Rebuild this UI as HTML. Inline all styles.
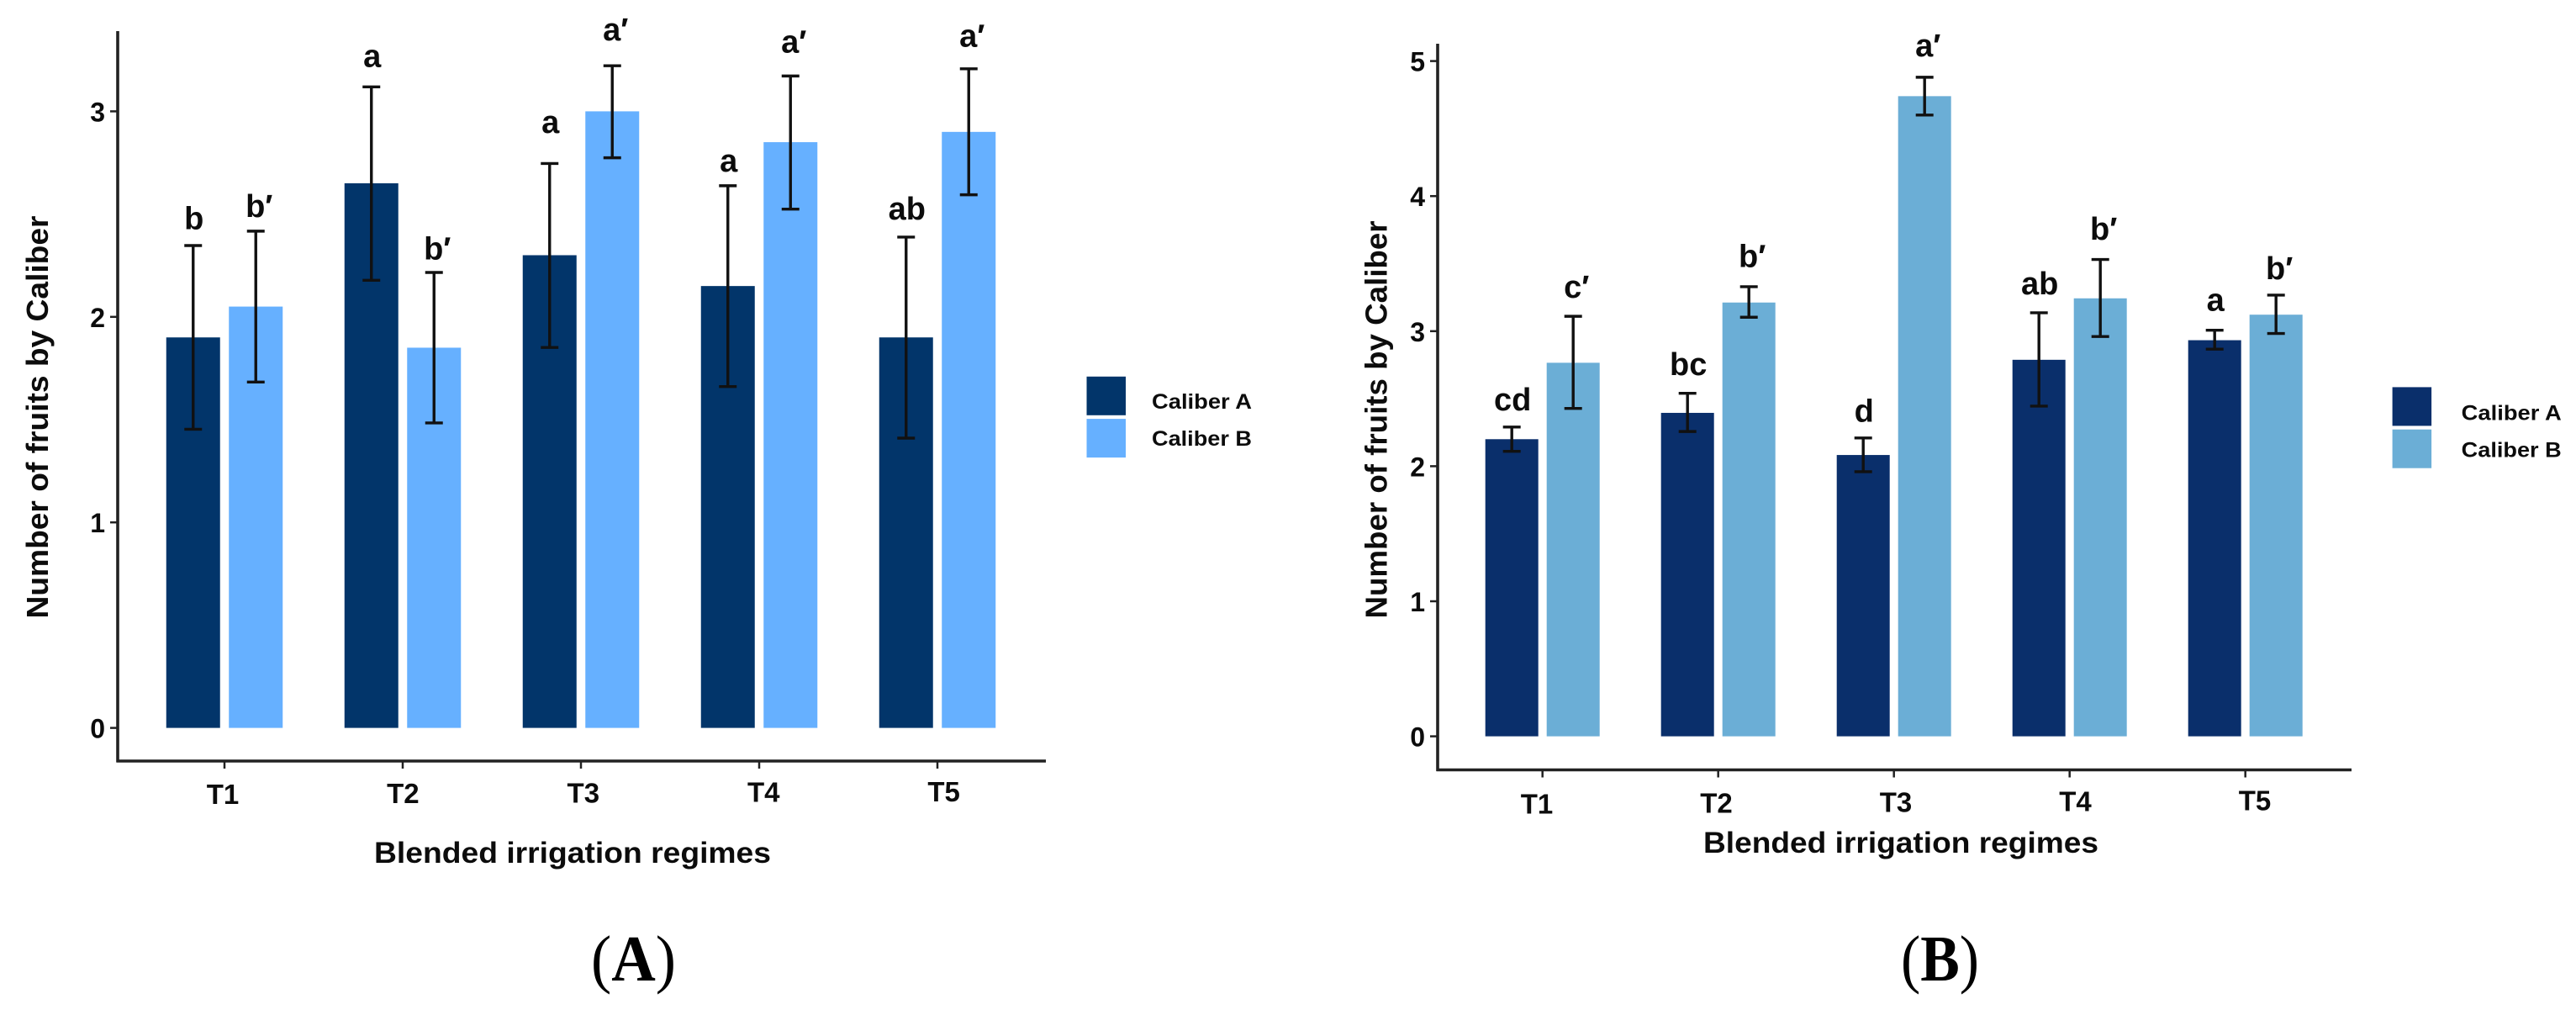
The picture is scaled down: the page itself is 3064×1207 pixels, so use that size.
<!DOCTYPE html>
<html lang="en">
<head>
<meta charset="utf-8">
<title>Number of fruits by caliber under blended irrigation regimes</title>
<style>
  html, body { margin: 0; padding: 0; background: #fff; }
  body { width: 3064px; height: 1207px; overflow: hidden; }
  svg { display: block; }
  text { font-family: "Liberation Sans", sans-serif; font-weight: 700; fill: #0c0c0c; }
  .panel-tag { font-family: "Liberation Serif", serif; font-weight: 400; fill: #000; }
  .panel-tag tspan { font-weight: 700; }
</style>
</head>
<body>
<svg id="figure" width="3064" height="1207" viewBox="0 0 3064 1207" xmlns="http://www.w3.org/2000/svg"></svg>
<script>
// Shared categories
const categories = ['T1', 'T2', 'T3', 'T4', 'T5'];
const seriesNames = ['Caliber A', 'Caliber B'];

// Panel A values
const yTicksA = [0, 1, 2, 3];
const meanA1 = [1.90, 2.65, 2.30, 2.15, 1.90];
const meanA2 = [2.05, 1.85, 3.00, 2.85, 2.90];
const upperA1 = [2.347, 3.119, 2.746, 2.638, 2.388];
const lowerA1 = [1.453, 2.178, 1.851, 1.661, 1.410];
const upperA2 = [2.417, 2.216, 3.222, 3.172, 3.207];
const lowerA2 = [1.683, 1.484, 2.774, 2.524, 2.594];
const lettersA1 = ['b', 'a', 'a', 'a', 'ab'];
const lettersA2 = ['b′', 'b′', 'a′', 'a′', 'a′'];
const letterLevelA1 = [2.427, 3.216, 2.895, 2.707, 2.474];
const letterLevelA2 = [2.486, 2.280, 3.346, 3.287, 3.315];

// Panel B values
const yTicksB = [0, 1, 2, 3, 4, 5];
const meanB1 = [2.20, 2.395, 2.083, 2.788, 2.933];
const meanB2 = [2.766, 3.212, 4.74, 3.243, 3.122];
const upperB1 = [2.29, 2.54, 2.209, 3.136, 3.007];
const lowerB1 = [2.11, 2.257, 1.959, 2.445, 2.867];
const upperB2 = [3.11, 3.329, 4.88, 3.531, 3.267];
const lowerB2 = [2.428, 3.103, 4.60, 2.96, 2.983];
const lettersB1 = ['cd', 'bc', 'd', 'ab', 'a'];
const lettersB2 = ['c′', 'b′', 'a′', 'b′', 'b′'];
const letterLevelB1 = [2.413, 2.676, 2.33, 3.272, 3.152];
const letterLevelB2 = [3.248, 3.474, 5.035, 3.677, 3.385];

const SVG_NS = 'http://www.w3.org/2000/svg';
const figure = document.getElementById('figure');

function make(parent, tag, props, content) {
  const node = document.createElementNS(SVG_NS, tag);
  for (const key in props) node.setAttribute(key, props[key]);
  if (content !== undefined) node.textContent = content;
  parent.appendChild(node);
  return node;
}

function drawPanel(p) {
  const yScale = v => p.zeroY - v * p.unitY;
  const xScale = i => p.firstTickX + i * p.stepX;

  const panel = make(figure, 'g', {});
  
  

  // Bars
  p.series.forEach((s, si) => {
    const offset = si === 0 ? -p.barOffset : p.barOffset;
    categories.forEach((cat, i) => {
      const cx = xScale(i) + offset;

      const bar = make(panel, 'rect', {
        x: cx - p.barWidth / 2,
        y: yScale(s.mean[i]),
        width: p.barWidth,
        height: yScale(0) - yScale(s.mean[i]),
        fill: p.colors[si]
      });
      
      
    });
  });

  // Error bars and significance letters
  p.series.forEach((s, si) => {
    const offset = si === 0 ? -p.barOffset : p.barOffset;
    categories.forEach((cat, i) => {
      const cx = xScale(i) + offset;
      const top = yScale(s.upper[i]);
      const bottom = yScale(s.lower[i]);

      const err = make(panel, 'path', {
        d: 'M' + (cx - 10.5) + ' ' + top + 'H' + (cx + 10.5) +
           'M' + cx + ' ' + top + 'V' + bottom +
           'M' + (cx - 10.5) + ' ' + bottom + 'H' + (cx + 10.5),
        fill: 'none',
        stroke: '#111',
        'stroke-width': 3.4
      });
      
      

      const primed = s.letters[i].indexOf('′') >= 0;
      const letter = make(panel, 'text', {
        x: cx + (primed ? 4 : 1),
        y: yScale(s.letterLevel[i]),
        'text-anchor': 'middle',
        'font-size': 38
      }, s.letters[i]);
      
      
    });
  });

  // Axes
  const yAxis = make(panel, 'line', {
    x1: p.axisX, y1: p.axisTop, x2: p.axisX, y2: p.axisY + 1.5,
    stroke: '#222', 'stroke-width': 3.6
  });
  
  

  const xAxis = make(panel, 'line', {
    x1: p.axisX - 1.5, y1: p.axisY, x2: p.axisRight, y2: p.axisY,
    stroke: '#222', 'stroke-width': 3.6
  });
  
  

  // Y ticks and labels
  p.yTicks.forEach(v => {
    const tick = make(panel, 'line', {
      x1: p.axisX - 9, y1: yScale(v), x2: p.axisX, y2: yScale(v),
      stroke: '#222', 'stroke-width': 2.5
    });
    
    

    const label = make(panel, 'text', {
      x: p.axisX - 15,
      y: yScale(v) + 12,
      'text-anchor': 'end',
      'font-size': 32
    }, String(v));
    
    
  });

  // X ticks and labels
  categories.forEach((cat, i) => {
    const tick = make(panel, 'line', {
      x1: xScale(i), y1: p.axisY, x2: xScale(i), y2: p.axisY + 9,
      stroke: '#222', 'stroke-width': 2.5
    });
    
    

    const label = make(panel, 'text', {
      x: p.tickLabelX + i * p.tickLabelStep,
      y: p.tickLabelY + i * p.tickLabelSlope,
      'text-anchor': 'middle',
      'font-size': 33
    }, cat);
    
    
  });

  // Axis titles
  const xTitle = make(panel, 'text', {
    x: p.xTitleX, y: p.xTitleY,
    'font-size': 35,
    textLength: p.xTitleLength,
    lengthAdjust: 'spacingAndGlyphs'
  }, 'Blended irrigation regimes');
  
  

  const yTitle = make(panel, 'text', {
    transform: 'translate(' + p.yTitleX + ' ' + p.yTitleBottom + ') rotate(-90)',
    'font-size': 36,
    textLength: p.yTitleLength,
    lengthAdjust: 'spacingAndGlyphs'
  }, 'Number of fruits by Caliber');
  
  

  // Legend
  seriesNames.forEach((name, si) => {
    const swatch = make(panel, 'rect', {
      x: p.legendX,
      y: p.legendY + si * 50.3,
      width: 46.5,
      height: 46,
      fill: p.colors[si]
    });
    
    

    const entry = make(panel, 'text', {
      x: p.legendTextX,
      y: p.legendTextY + si * 44,
      'font-size': 25,
      textLength: 119,
      lengthAdjust: 'spacingAndGlyphs'
    }, name);
    
    
  });

  // Panel tag
  const tag = make(panel, 'text', {
    class: 'panel-tag',
    x: p.tagX,
    y: 1166,
    'font-size': 77,
    textLength: p.tagLength,
    lengthAdjust: 'spacingAndGlyphs'
  });
  
  
  make(tag, 'tspan', { style: 'font-weight:400' }, '(');
  make(tag, 'tspan', {}, p.tagLetter);
  make(tag, 'tspan', { style: 'font-weight:400' }, ')');
}

drawPanel({
  id: 'a',
  zeroY: 865.6, unitY: 244.4,
  firstTickX: 267, stepX: 212,
  barOffset: 37.25, barWidth: 64,
  colors: ['#02356a', '#66b0ff'],
  axisX: 140, axisTop: 37, axisY: 905, axisRight: 1244,
  yTicks: yTicksA,
  series: [
    { mean: meanA1, upper: upperA1, lower: lowerA1, letters: lettersA1, letterLevel: letterLevelA1 },
    { mean: meanA2, upper: upperA2, lower: lowerA2, letters: lettersA2, letterLevel: letterLevelA2 }
  ],
  tickLabelX: 265, tickLabelStep: 214.4, tickLabelY: 956, tickLabelSlope: -0.8,
  xTitleX: 445, xTitleY: 1026, xTitleLength: 472,
  yTitleX: 57, yTitleBottom: 735.5, yTitleLength: 479,
  legendX: 1292.5, legendY: 447.8, legendTextX: 1370, legendTextY: 486,
  tagX: 703, tagLength: 101, tagLetter: 'A'
});

drawPanel({
  id: 'b',
  zeroY: 875.6, unitY: 160.6,
  firstTickX: 1834.7, stepX: 209,
  barOffset: 36.5, barWidth: 63,
  colors: ['#0a2f6b', '#6baed6'],
  axisX: 1710, axisTop: 52, axisY: 915.5, axisRight: 2797,
  yTicks: yTicksB,
  series: [
    { mean: meanB1, upper: upperB1, lower: lowerB1, letters: lettersB1, letterLevel: letterLevelB1 },
    { mean: meanB2, upper: upperB2, lower: lowerB2, letters: lettersB2, letterLevel: letterLevelB2 }
  ],
  tickLabelX: 1828, tickLabelStep: 213.5, tickLabelY: 967.5, tickLabelSlope: -1,
  xTitleX: 2026, xTitleY: 1014, xTitleLength: 470,
  yTitleX: 1649.5, yTitleBottom: 735.5, yTitleLength: 473,
  legendX: 2845.6, legendY: 460.4, legendTextX: 2927.7, legendTextY: 499.4,
  tagX: 2261, tagLength: 93, tagLetter: 'B'
});
</script>
</body>
</html>
